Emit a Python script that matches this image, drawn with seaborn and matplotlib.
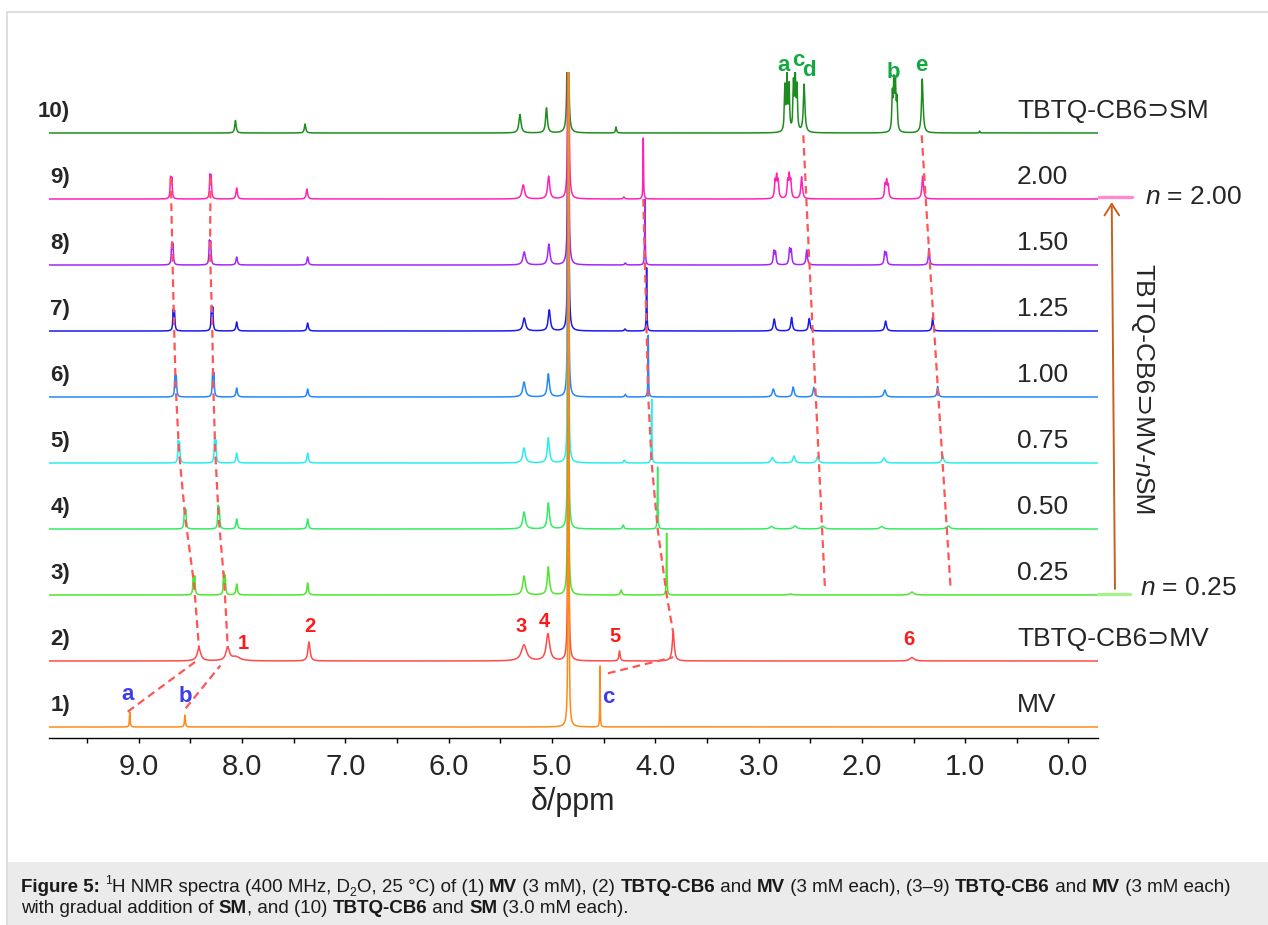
import numpy as np
import matplotlib
matplotlib.use("Agg")
import matplotlib.pyplot as plt
import seaborn as sns
from matplotlib.lines import Line2D
from matplotlib.patches import Rectangle, FancyArrowPatch
from matplotlib.transforms import IdentityTransform
from matplotlib.ticker import MultipleLocator, FormatStrFormatter

# ---------------- data (peak lists: shift / height(px) / half-width) ----------------
SP1_PPM = [9.087, 8.553, 4.840, 4.535]
SP1_H = [15, 12, 900, 61]
SP1_W = [0.004, 0.005, 0.0028, 0.0025]

SP2_PPM = [8.417, 8.139, 8.06, 7.352, 5.271, 5.039, 4.842, 4.346, 3.826, 1.515]
SP2_H = [13, 13, 4, 19, 16, 27, 900, 10, 28, 3.5]
SP2_W = [0.02, 0.02, 0.05, 0.012, 0.03, 0.02, 0.0028, 0.007, 0.012, 0.025]

SP3_PPM = [8.472, 8.458, 8.178, 8.163, 8.052, 7.365, 5.27, 5.035, 4.843, 4.33, 3.890, 2.69, 1.515]
SP3_H = [19, 17, 21, 18, 11, 12, 19, 28, 900, 5, 62, 1, 3]
SP3_W = [0.005, 0.005, 0.005, 0.005, 0.008, 0.008, 0.015, 0.012, 0.0028, 0.008, 0.003, 0.02, 0.02]

SP4_PPM = [8.557, 8.545, 8.232, 8.220, 8.052, 7.365, 5.27, 5.035, 4.843, 4.31, 3.977, 2.873, 2.648, 2.38, 1.808, 1.164]
SP4_H = [19, 17, 21, 19, 10, 10, 17, 26, 900, 4, 62, 2.5, 3, 3, 2.5, 3]
SP4_W = [0.005, 0.005, 0.005, 0.005, 0.008, 0.008, 0.015, 0.012, 0.0028, 0.008, 0.003, 0.02, 0.02, 0.02, 0.02, 0.02]

SP5_PPM = [8.617, 8.605, 8.266, 8.254, 8.052, 7.365, 5.27, 5.035, 4.843, 4.30, 4.035, 2.867, 2.657, 2.428, 1.786, 1.218]
SP5_H = [20, 18, 22, 20, 10, 10, 15, 25, 900, 3, 64, 5.5, 7, 6.5, 5, 7.5]
SP5_W = [0.005, 0.005, 0.005, 0.005, 0.008, 0.008, 0.015, 0.012, 0.0028, 0.008, 0.003, 0.015, 0.012, 0.012, 0.015, 0.01]

SP6_PPM = [8.649, 8.637, 8.285, 8.273, 8.052, 7.365, 5.27, 5.035, 4.843, 4.29, 4.068, 2.857, 2.664, 2.464, 1.777, 1.266]
SP6_H = [20, 19, 22, 21, 9, 8, 15, 23, 900, 2.5, 62, 8, 10, 9.5, 7, 10.5]
SP6_W = [0.005, 0.005, 0.005, 0.005, 0.008, 0.008, 0.015, 0.012, 0.0028, 0.008, 0.003, 0.012, 0.01, 0.01, 0.012, 0.008]

SP7_PPM = [8.666, 8.654, 8.296, 8.284, 8.052, 7.365, 5.268, 5.026, 4.842, 4.293, 4.084, 2.848, 2.680, 2.509, 1.770, 1.315]
SP7_H = [19, 18, 22, 21, 9, 8, 13, 21, 900, 2, 64, 12, 13.5, 12.5, 10, 13.5]
SP7_W = [0.005, 0.005, 0.005, 0.005, 0.008, 0.008, 0.015, 0.012, 0.0028, 0.008, 0.003, 0.01, 0.009, 0.009, 0.01, 0.007]

SP8_PPM = [8.681, 8.669, 8.316, 8.304, 8.052, 7.365, 5.268, 5.03, 4.842, 4.29, 4.10,
           2.852, 2.836, 2.700, 2.684, 2.534, 1.779, 1.763, 1.351]
SP8_H = [20, 19, 22, 21, 8, 8, 13, 20.7, 900, 2, 66, 13, 12, 15, 14, 15, 12, 11, 16.5]
SP8_W = [0.005, 0.005, 0.005, 0.005, 0.008, 0.008, 0.015, 0.012, 0.0028, 0.008, 0.003,
         0.007, 0.007, 0.007, 0.007, 0.008, 0.007, 0.007, 0.007]

SP9_PPM = [8.692, 8.680, 8.311, 8.299, 8.052, 7.372, 5.278, 5.032, 4.841, 4.303, 4.116,
           2.84, 2.825, 2.81, 2.718, 2.703, 2.688, 2.583, 1.775, 1.76, 1.745, 1.411]
SP9_H = [20, 19, 22, 21, 11, 10, 14, 22.7, 900, 2, 61,
         16, 20, 16, 16, 21, 16, 22, 13, 16, 12, 23]
SP9_W = [0.005, 0.005, 0.005, 0.005, 0.008, 0.008, 0.015, 0.012, 0.0028, 0.008, 0.003,
         0.007, 0.007, 0.007, 0.007, 0.007, 0.007, 0.009, 0.007, 0.007, 0.007, 0.009]

SP10_PPM = [8.064, 7.39, 5.31, 5.053, 4.846, 4.38, 2.745, 2.725, 2.705, 2.662, 2.645, 2.628,
            2.559, 1.705, 1.690, 1.675, 1.660, 1.415, 0.86]
SP10_H = [12.5, 9, 18.5, 25, 900, 6, 44, 54, 44, 46, 54, 42, 48, 36, 46, 44, 30, 54, 2]
SP10_W = [0.008, 0.008, 0.012, 0.01, 0.0028, 0.006, 0.006, 0.006, 0.006, 0.006, 0.006, 0.006,
          0.009, 0.006, 0.006, 0.006, 0.006, 0.009, 0.005]

SPECTRA = [(SP1_PPM, SP1_H, SP1_W), (SP2_PPM, SP2_H, SP2_W), (SP3_PPM, SP3_H, SP3_W),
           (SP4_PPM, SP4_H, SP4_W), (SP5_PPM, SP5_H, SP5_W), (SP6_PPM, SP6_H, SP6_W),
           (SP7_PPM, SP7_H, SP7_W), (SP8_PPM, SP8_H, SP8_W), (SP9_PPM, SP9_H, SP9_W),
           (SP10_PPM, SP10_H, SP10_W)]

LEFT_LABELS = ["1)", "2)", "3)", "4)", "5)", "6)", "7)", "8)", "9)", "10)"]
RIGHT_LABELS = ["MV", "TBTQ-CB6\u2283MV", "0.25", "0.50", "0.75", "1.00", "1.25", "1.50",
                "2.00", "TBTQ-CB6\u2283SM"]
COLORS = ['#ff8a1a', '#ff4a4a', '#4ee62e', '#33ec66', '#2aeeee', '#2288ff', '#1a1aee',
          '#a626f5', '#ff22b8', '#1f8c1f']

# connector tracks (ppm, spectrum level, rise above baseline in px)
TRACK_A = ([8.69, 8.675, 8.66, 8.643, 8.611, 8.551, 8.466, 8.417], [9, 8, 7, 6, 5, 4, 3, 2], [21, 12, 12, 12, 12, 12, 12, 13])
TRACK_B = ([8.305, 8.31, 8.29, 8.279, 8.26, 8.227, 8.172, 8.139], [9, 8, 7, 6, 5, 4, 3, 2], [21, 12, 12, 12, 12, 12, 12, 14])
TRACK_C = ([4.116, 4.10, 4.084, 4.068, 4.035, 3.977, 3.89, 3.826], [9, 8, 7, 6, 5, 4, 3, 2], [0, 0, 0, 0, 0, 0, 0, 28])
TRACK_MVA = ([9.107, 8.427], [1, 2], [15.3, 1.2])
TRACK_MVB = ([8.546, 8.21], [1, 2], [18.7, -4.5])
TRACK_MVC = ([4.458, 3.826], [1, 2], [53.7, 3.8])
TRACK_D = ([2.567, 2.357], [10, 3], [-2.3, 5])
TRACK_E = ([1.421, 1.140], [10, 3], [-2.3, 5])
TRACKS = [TRACK_A, TRACK_B, TRACK_C, TRACK_MVA, TRACK_MVB, TRACK_MVC, TRACK_D, TRACK_E]

# peak labels (text, ppm, level, rise px)
BLUE_LABELS = [("a", 9.107, 1, 32), ("b", 8.546, 1, 31), ("c", 4.458, 1, 29.3)]
RED_LABELS = [("1", 7.991, 2, 17.5), ("2", 7.343, 2, 34.5), ("3", 5.294, 2, 34.5),
              ("4", 5.077, 2, 39.8), ("5", 4.385, 2, 24.5), ("6", 1.544, 2, 21.5)]
GREEN_LABELS = [("a", 2.754, 10, 67.7), ("c", 2.619, 10, 72.5), ("d", 2.508, 10, 62.7),
                ("b", 1.694, 10, 61), ("e", 1.423, 10, 67.7)]

# ---------------- style ----------------
sns.set_style("white")
plt.rcParams['font.family'] = ['Liberation Sans', 'DejaVu Sans']
plt.rcParams['mathtext.fontset'] = 'custom'
plt.rcParams['mathtext.rm'] = 'Liberation Sans'
plt.rcParams['mathtext.it'] = 'Liberation Sans:italic'
plt.rcParams['mathtext.bf'] = 'Liberation Sans:bold'

W, H = 1268, 925
fig = plt.figure(figsize=(W / 100, H / 100), dpi=100)
fig.patch.set_facecolor('white')

# frame and caption box
fig.patches.append(Rectangle((7 / W, -0.05), 1.2, 1.05 - 12 / H, transform=fig.transFigure,
                             fill=False, ec='#d8d8d8', lw=1.2, zorder=0))
fig.patches.append(Rectangle((7.5 / W, 0), 1.0, 63 / H, transform=fig.transFigure,
                             fc='#ebebeb', ec='none', zorder=0))

AX_L, AX_R, AX_B, AX_T = 49, 1098, 738, 72
ax = fig.add_axes([AX_L / W, 1 - AX_B / H, (AX_R - AX_L) / W, (AX_B - AX_T) / H])
ax.set_facecolor('none')
XMAX, XMIN = 9.869, -0.2856
ax.set_xlim(XMAX, XMIN)
ax.set_ylim(0, AX_B - AX_T)

BASE0, STEP = 11.0, 66.0
def base(level):
    return BASE0 + STEP * (level - 1)

grid = np.linspace(XMIN, XMAX, 16000)
def spectrum(ppm, h, w):
    y = np.zeros_like(grid)
    for p, hh, ww in zip(ppm, h, w):
        y += hh * ww ** 2 / ((grid - p) ** 2 + ww ** 2)
    return y

for i, ((ppm, h, w), col) in enumerate(zip(SPECTRA, COLORS)):
    lvl = i + 1
    y = spectrum(ppm, h, w) + base(lvl)
    sns.lineplot(x=grid, y=y, ax=ax, color=col, lw=1.1, estimator=None, sort=False,
                 legend=False, zorder=3 + (11 - lvl) * 0.01)

# dashed connectors
for ppm, lv, rise in TRACKS:
    ys = [base(l) + r for l, r in zip(lv, rise)]
    ax.plot(ppm, ys, color='#ff5555', lw=1.6, ls=(0, (3.5, 2.2)), zorder=5, clip_on=False)

# labels
for txt, p, lv, r in BLUE_LABELS:
    ax.text(p, base(lv) + r, txt, color='#3c3cf0', fontsize=16, fontweight='bold',
            ha='center', va='center', zorder=6)
for txt, p, lv, r in RED_LABELS:
    ax.text(p, base(lv) + r, txt, color='#ff1a1a', fontsize=14.5, fontweight='bold',
            ha='center', va='center', zorder=6)
for txt, p, lv, r in GREEN_LABELS:
    ax.text(p, base(lv) + r, txt, color='#14a843', fontsize=16, fontweight='bold',
            ha='center', va='center', zorder=6)

PX_PER_PPM = (AX_R - AX_L) / (XMAX - XMIN)
def px2ppm(x):
    return XMAX - (x - AX_L) / PX_PER_PPM

for i, (lt, rt) in enumerate(zip(LEFT_LABELS, RIGHT_LABELS)):
    lvl = i + 1
    ax.text(px2ppm(70), base(lvl) + 22, lt, fontsize=16, fontweight='bold', ha='right',
            va='center', clip_on=False)
    ax.text(px2ppm(1017), base(lvl) + 22, rt, fontsize=19, ha='left', va='center',
            clip_on=False)

# axis styling
sns.despine(ax=ax, left=True, top=True, right=True)
ax.set_yticks([])
ax.xaxis.set_major_locator(MultipleLocator(1.0))
ax.xaxis.set_minor_locator(MultipleLocator(0.5))
ax.xaxis.set_major_formatter(FormatStrFormatter('%.1f'))
ax.tick_params(axis='x', which='both', direction='out', length=3.6, width=1.0,
               bottom=True, color='black')
ax.tick_params(axis='x', which='major', labelsize=21, pad=7)
ax.spines['bottom'].set_linewidth(1.0)
ax.spines['bottom'].set_color('black')
ax.set_xlabel("\u03b4/ppm", fontsize=22)
ax.xaxis.set_label_coords(0.5, -(787 - AX_B) / (AX_B - AX_T))

# right-hand decorations (pixel positions measured from top-left)
def fp(x, y):
    return (x / W, 1 - y / H)

renderer = fig.canvas.get_renderer()
def tw(s, fs, weight='normal', style='normal'):
    t1 = fig.text(0, 0, '|' + s + '|', fontsize=fs, fontweight=weight, fontstyle=style)
    w1 = t1.get_window_extent(renderer).width
    t1.remove()
    t2 = fig.text(0, 0, '||', fontsize=fs, fontweight=weight, fontstyle=style)
    w2 = t2.get_window_extent(renderer).width
    t2.remove()
    return w1 - w2

fig.add_artist(Line2D([1099 / W, 1131.7 / W], [1 - 196.7 / H] * 2, color='#ff8ad0', lw=2.4))
fig.add_artist(Line2D([1098 / W, 1130 / W], [1 - 594 / H] * 2, color='#a8f090', lw=2.4))
fig.add_artist(FancyArrowPatch(fp(1115, 591.7), fp(1111.7, 199.3),
               transform=fig.transFigure, arrowstyle='->,head_length=0.55,head_width=0.35',
               mutation_scale=15, color='#c8601e', lw=1.4))
fig.text(*fp(1145, 196.7), "$n$ = 2.00", fontsize=19, ha='left', va='center')
fig.text(*fp(1140, 588), "$n$ = 0.25", fontsize=19, ha='left', va='center')

VPIECES = [("TBTQ-CB6\u2283MV-", 'normal'), ("n", 'italic'), ("SM", 'normal')]
vw = [tw(s, 19, style=st) for s, st in VPIECES]
yv = 390 - sum(vw) / 2
for (s, st), wpc in zip(VPIECES, vw):
    fig.text(*fp(1142, yv), s, fontsize=19, fontstyle=st, rotation=-90,
             ha='center', va='top')
    yv += wpc

# caption with mixed weights
LINE1 = [("Figure 5:", 'b'), (" ", 'n'), ("1", 'sup'), ("H NMR spectra (400 MHz, D", 'n'),
         ("2", 'sub'), ("O, 25 \u00b0C) of (1) ", 'n'), ("MV", 'b'), (" (3 mM), (2) ", 'n'),
         ("TBTQ-CB6", 'b'), (" and ", 'n'), ("MV", 'b'), (" (3 mM each), (3\u20139) ", 'n'),
         ("TBTQ-CB6", 'b'), (" and ", 'n'), ("MV", 'b'), (" (3 mM each)", 'n')]
LINE2 = [("with gradual addition of ", 'n'), ("SM", 'b'), (", and (10) ", 'n'),
         ("TBTQ-CB6", 'b'), (" and ", 'n'), ("SM", 'b'), (" (3.0 mM each).", 'n')]

def seg_props(kind, fs):
    if kind == 'b':
        return fs, 'bold', 0
    if kind == 'sup':
        return fs * 0.65, 'normal', fs * 0.55
    if kind == 'sub':
        return fs * 0.65, 'normal', -fs * 0.3
    return fs, 'normal', 0

def line_width(segs, fs):
    tot = 0
    for s, k in segs:
        f, wgt, _ = seg_props(k, fs)
        tot += tw(s, f, wgt)
    return tot

fs0 = 10.0
fs_cap = fs0 * (1231 - 21) / line_width(LINE1, fs0)

def draw_line(segs, x0, ybase, fs):
    x = x0
    for s, k in segs:
        f, wgt, dy = seg_props(k, fs)
        fig.text(x, H - ybase + dy, s, fontsize=f, fontweight=wgt, color='#1a1a1a',
                 transform=IdentityTransform(), ha='left', va='baseline')
        x += tw(s, f, wgt)

draw_line(LINE1, 21, 891.5, fs_cap)
draw_line(LINE2, 21, 913, fs_cap)

fig.savefig("out.png", dpi=100, facecolor='white')
